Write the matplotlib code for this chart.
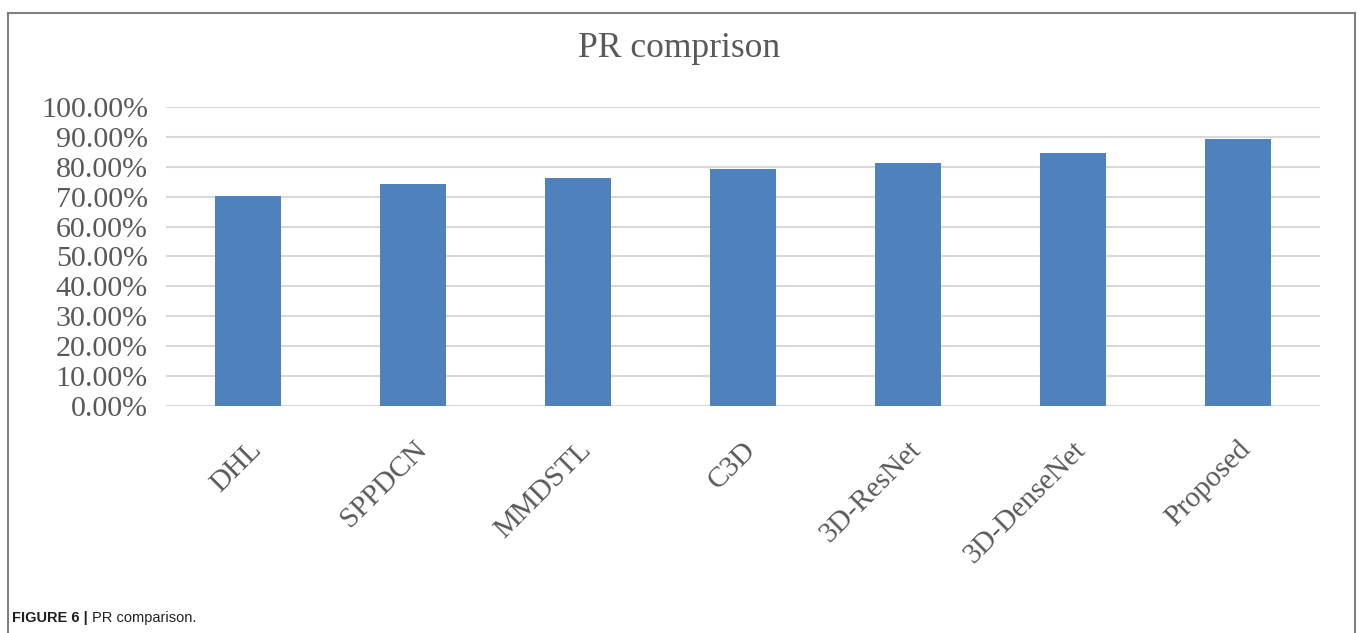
import matplotlib.pyplot as plt
from matplotlib.lines import Line2D
from matplotlib.ticker import FuncFormatter
import numpy as np

# values
methods = ['DHL', 'SPPDCN', 'MMDSTL', 'C3D', '3D-ResNet', '3D-DenseNet', 'Proposed']
pr = [0.702, 0.741, 0.764, 0.792, 0.811, 0.846, 0.893]
yticks = np.arange(0, 1.01, 0.1)

grey = '#595959'
bar_color = '#4F81BD'

fig = plt.figure(figsize=(13.58, 6.33), dpi=100)
ax = fig.add_axes([0.1222, 0.3586, 0.8498, 0.4724])

x = np.arange(len(methods))
ax.bar(x, pr, width=0.4, color=bar_color, zorder=3)

ax.set_xlim(-0.5, len(methods) - 0.5)
ax.set_ylim(0, 1)
ax.set_yticks(yticks)
ax.yaxis.set_major_formatter(FuncFormatter(lambda v, p: '%.2f%%' % (v * 100)))
ax.grid(axis='y', color='#D9D9D9', linewidth=1.5, zorder=0)
for s in ax.spines.values():
    s.set_visible(False)
ax.tick_params(axis='both', length=0)
ax.tick_params(axis='y', pad=13)

serif = ['Liberation Serif', 'DejaVu Serif']
for lab in ax.get_yticklabels():
    lab.set_fontfamily(serif)
    lab.set_fontsize(21.6)
    lab.set_color(grey)

ax.set_xticks(x)
ax.set_xticklabels(methods, rotation=45, ha='right', rotation_mode='anchor',
                   fontsize=21, color=grey, family=serif)
ax.tick_params(axis='x', pad=22)

fig.text(0.5, 1 - 57 / 633, 'PR comprison', ha='center', va='baseline',
         fontsize=25.6, color=grey, family=serif)

# frame around the figure panel
fc = '#808080'
fig.add_artist(Line2D([8 / 1358, 8 / 1358], [0, 1 - 13 / 633], color=fc, lw=1.5,
                      transform=fig.transFigure))
fig.add_artist(Line2D([1355 / 1358, 1355 / 1358], [0, 1 - 13 / 633], color=fc, lw=1.5,
                      transform=fig.transFigure))
fig.add_artist(Line2D([8 / 1358, 1355 / 1358], [1 - 13 / 633, 1 - 13 / 633], color=fc,
                      lw=1.5, transform=fig.transFigure))

# caption
cap = fig.text(12 / 1358, 1 - 618 / 633, 'FIGURE 6 |', ha='left', va='center',
               fontsize=10.5, fontweight='bold', color='#231F20',
               family=['Liberation Sans', 'DejaVu Sans'])
fig.canvas.draw()
bb = cap.get_window_extent()
fig.text(bb.x1 / 1358 + 0.003, 1 - 618 / 633, 'PR comparison.', ha='left',
         va='center', fontsize=10.5, color='#231F20',
         family=['Liberation Sans', 'DejaVu Sans'])

fig.savefig('out.png', dpi=100)
